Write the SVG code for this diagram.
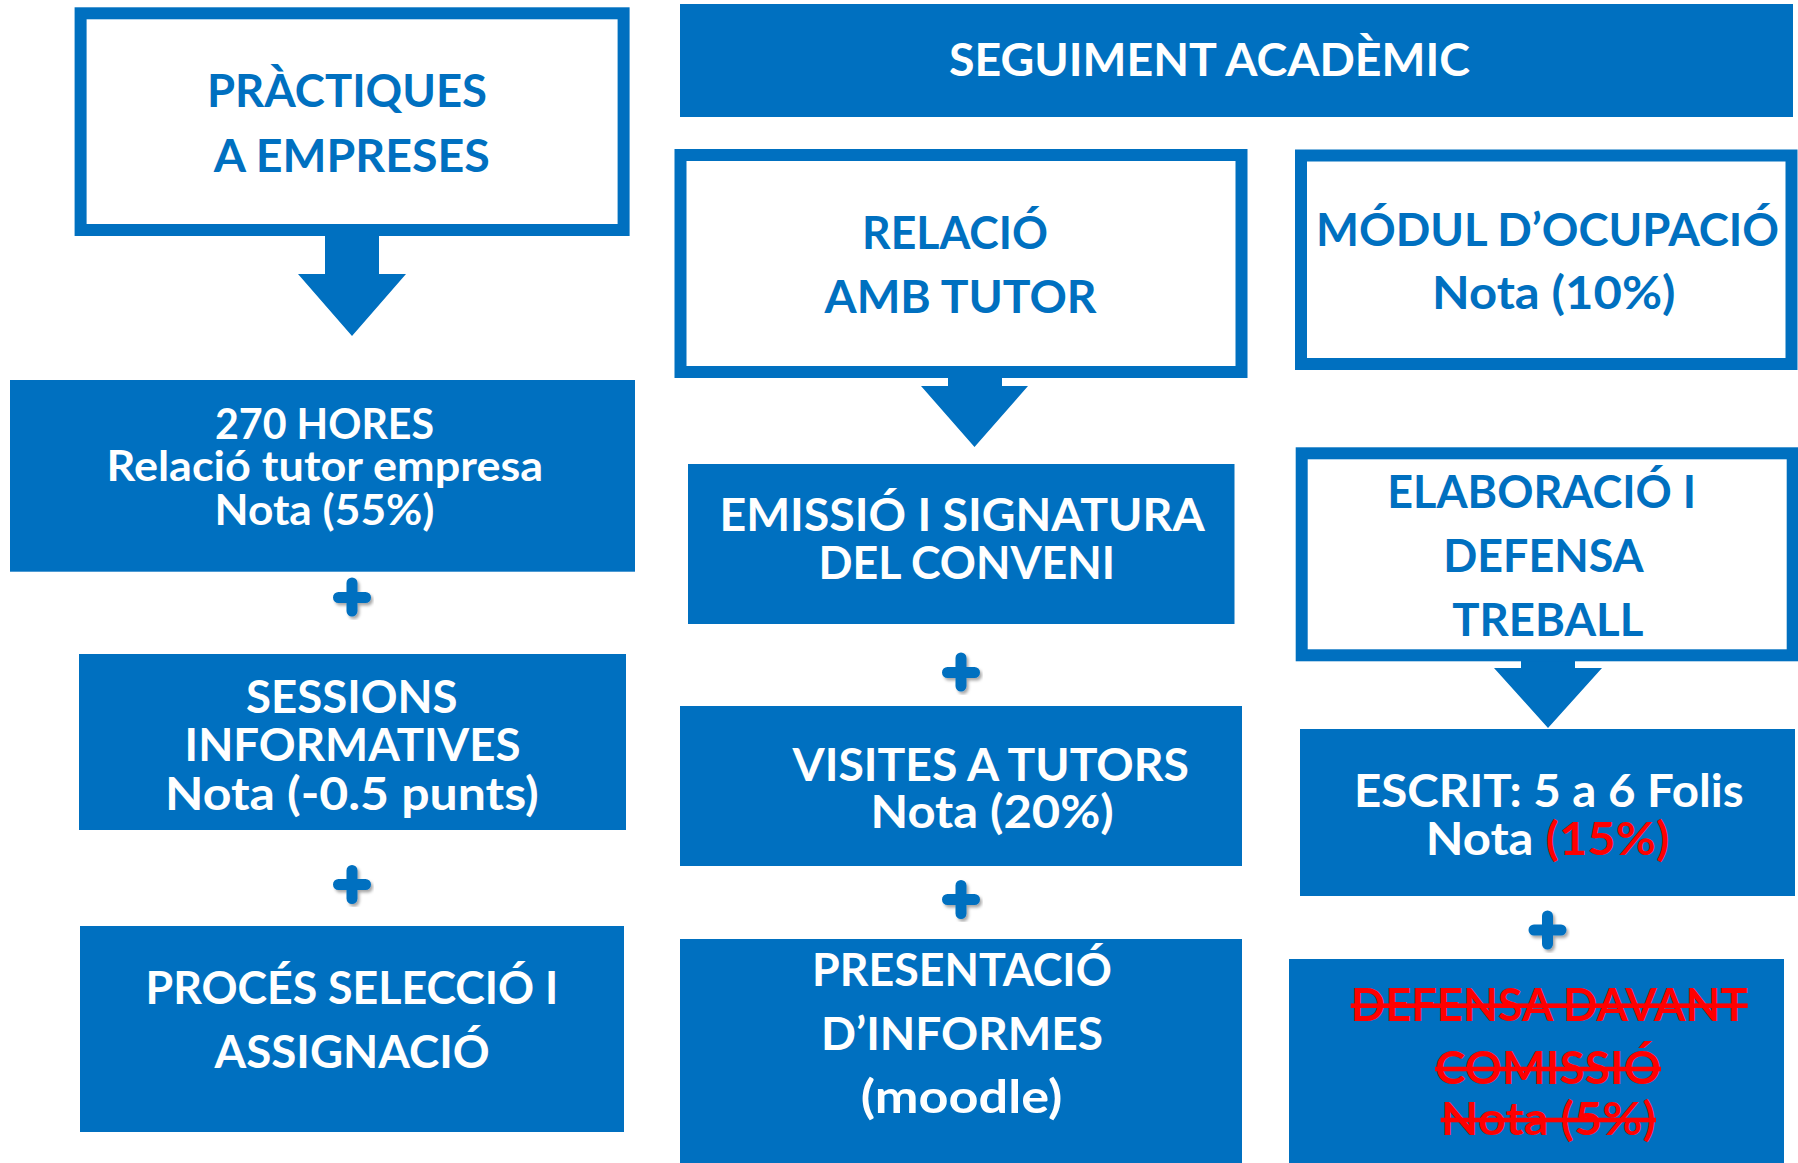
<svg xmlns="http://www.w3.org/2000/svg" width="1798" height="1163" viewBox="0 0 1798 1163">
<defs>
<filter id="sh" x="-30%" y="-30%" width="160%" height="160%">
<feDropShadow dx="2" dy="2.5" stdDeviation="1.5" flood-color="#000" flood-opacity="0.35"/>
</filter>
<style>
.ob{fill:#fff;stroke:#0070C0;stroke-width:12}
.fb{fill:#0070C0}
text{font-family:Lato,"Open Sans","Liberation Sans",sans-serif;font-weight:bold;font-size:46px}
.tb{fill:#0070C0}
.tw{fill:#fff}
.tr{fill:#FF0000}
.sm{font-size:42px}
.st{text-decoration:line-through;text-decoration-thickness:4px}
.plus{stroke:#0070C0;stroke-width:11;stroke-linecap:round;fill:none;filter:url(#sh)}
.arr{fill:#0070C0}
</style>
</defs>
<rect width="1798" height="1163" fill="#fff"/>

<g id="connectors">
<polygon class="arr" points="325,230 379,230 379,274 406,274 352,336 298,274 325,274"/>
<polygon class="arr" points="948,372 1002,372 1002,386 1028,386 974.5,447 921,386 948,386"/>
<polygon class="arr" points="1521,655 1575,655 1575,668 1602,668 1548,728 1494,668 1521,668"/>
<path class="plus" d="M352,583 V611 M338.5,597.5 H365.5"/>
<path class="plus" d="M352,870.5 V898.5 M338.5,884.5 H365.5"/>
<path class="plus" d="M961,658 V686 M947.5,672.5 H974.5"/>
<path class="plus" d="M961,885.5 V913.5 M947.5,899.5 H974.5"/>
<path class="plus" d="M1547.5,916 V944 M1534,930 H1561"/>
</g>

<g id="practiques">
<rect class="ob" x="80.6" y="13.3" width="543" height="216.7"/>
<text class="tb" x="207" y="107.3" textLength="280" lengthAdjust="spacingAndGlyphs">PRÀCTIQUES</text>
<text class="tb" x="213.7" y="171.7" textLength="276" lengthAdjust="spacingAndGlyphs">A EMPRESES</text>
</g>

<g id="seguiment">
<rect class="fb" x="680" y="4" width="1113" height="113"/>
<text class="tw" x="949" y="76" textLength="521" lengthAdjust="spacingAndGlyphs">SEGUIMENT ACADÈMIC</text>
</g>

<g id="relacio">
<rect class="ob" x="680.5" y="155" width="561" height="217"/>
<text class="tb" x="862" y="249.3" textLength="186" lengthAdjust="spacingAndGlyphs">RELACIÓ</text>
<text class="tb" x="824.5" y="313.3" textLength="272" lengthAdjust="spacingAndGlyphs">AMB TUTOR</text>
</g>

<g id="modul">
<rect class="ob" x="1301" y="155.5" width="490.5" height="208.5"/>
<text class="tb" x="1316" y="246" textLength="463" lengthAdjust="spacingAndGlyphs">MÓDUL D’OCUPACIÓ</text>
<text class="tb" x="1432" y="309.3" textLength="243.5" lengthAdjust="spacingAndGlyphs">Nota (10%)</text>
</g>

<g id="hores">
<rect class="fb" x="10" y="380" width="625" height="191.7"/>
<text class="tw sm" x="215" y="439" textLength="219" lengthAdjust="spacingAndGlyphs">270 HORES</text>
<text class="tw sm" x="106.5" y="481" textLength="436.5" lengthAdjust="spacingAndGlyphs">Relació tutor empresa</text>
<text class="tw sm" x="214.5" y="525.3" textLength="220" lengthAdjust="spacingAndGlyphs">Nota (55%)</text>
</g>

<g id="sessions">
<rect class="fb" x="79" y="654" width="547" height="176"/>
<text class="tw" x="246" y="713.3" textLength="211.6" lengthAdjust="spacingAndGlyphs">SESSIONS</text>
<text class="tw" x="184.6" y="760.7" textLength="336" lengthAdjust="spacingAndGlyphs">INFORMATIVES</text>
<text class="tw" x="165" y="810" textLength="373.7" lengthAdjust="spacingAndGlyphs">Nota (-0.5 punts)</text>
</g>

<g id="proces">
<rect class="fb" x="80" y="926" width="544" height="206"/>
<text class="tw" x="145.6" y="1004" textLength="412.6" lengthAdjust="spacingAndGlyphs">PROCÉS SELECCIÓ I</text>
<text class="tw" x="214.5" y="1068.3" textLength="275.2" lengthAdjust="spacingAndGlyphs">ASSIGNACIÓ</text>
</g>

<g id="emissio">
<rect class="fb" x="688" y="464" width="546.5" height="160"/>
<text class="tw" x="719.5" y="530.7" textLength="485.2" lengthAdjust="spacingAndGlyphs">EMISSIÓ I SIGNATURA</text>
<text class="tw" x="818.4" y="578.7" textLength="296.6" lengthAdjust="spacingAndGlyphs">DEL CONVENI</text>
</g>

<g id="visites">
<rect class="fb" x="680" y="706" width="562" height="160"/>
<text class="tw" x="792.6" y="780.7" textLength="396.3" lengthAdjust="spacingAndGlyphs">VISITES A TUTORS</text>
<text class="tw" x="870.5" y="828.3" textLength="243.2" lengthAdjust="spacingAndGlyphs">Nota (20%)</text>
</g>

<g id="presentacio">
<rect class="fb" x="680" y="939" width="562" height="224"/>
<text class="tw" x="812" y="986" textLength="299.8" lengthAdjust="spacingAndGlyphs">PRESENTACIÓ</text>
<text class="tw" x="821" y="1050" textLength="282" lengthAdjust="spacingAndGlyphs">D’INFORMES</text>
<text class="tw" x="860.7" y="1113.3" textLength="201.6" lengthAdjust="spacingAndGlyphs">(moodle)</text>
</g>

<g id="elaboracio">
<rect class="ob" x="1301.7" y="453.3" width="491" height="202"/>
<text class="tb" x="1387.3" y="508.3" textLength="308.7" lengthAdjust="spacingAndGlyphs">ELABORACIÓ I</text>
<text class="tb" x="1443.3" y="571.7" textLength="200.4" lengthAdjust="spacingAndGlyphs">DEFENSA</text>
<text class="tb" x="1452.3" y="636" textLength="191" lengthAdjust="spacingAndGlyphs">TREBALL</text>
</g>

<g id="escrit">
<rect class="fb" x="1300" y="729" width="495" height="167"/>
<text class="tw" x="1354" y="806.7" textLength="389.7" lengthAdjust="spacingAndGlyphs">ESCRIT: 5 a 6 Folis</text>
<text class="tw" x="1425.7" y="855" textLength="243.7" lengthAdjust="spacingAndGlyphs">Nota <tspan class="tr">(15%)</tspan></text>
</g>

<g id="defensa">
<rect class="fb" x="1289" y="959" width="495" height="204"/>
<text class="tr st" x="1350.7" y="1020.7" textLength="397" lengthAdjust="spacingAndGlyphs">DEFENSA DAVANT</text>
<text class="tr st" x="1435" y="1084" textLength="226" lengthAdjust="spacingAndGlyphs">COMISSIÓ</text>
<text class="tr st" x="1440.7" y="1135" textLength="215.3" lengthAdjust="spacingAndGlyphs">Nota (5%)</text>
</g>
</svg>
